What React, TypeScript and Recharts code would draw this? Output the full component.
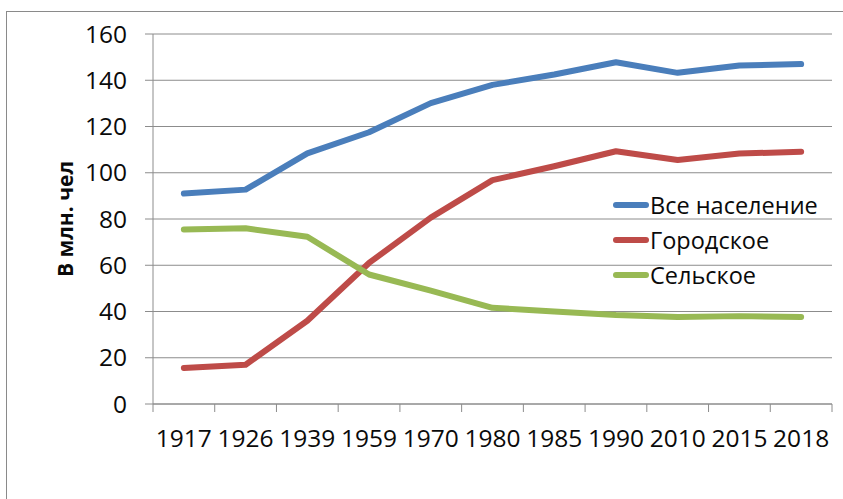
import React from "react";
import { LineChart, Line, XAxis, YAxis, CartesianGrid } from "recharts";

const years = ["1917", "1926", "1939", "1959", "1970", "1980", "1985", "1990", "2010", "2015", "2018"];
const total = [91, 92.7, 108.4, 117.5, 130.1, 138, 142.5, 147.8, 143.2, 146.4, 147];
const urban = [15.6, 17, 36, 61, 80.6, 96.8, 102.8, 109.3, 105.5, 108.3, 109.1];
const rural = [75.5, 76, 72.3, 56, 49, 41.6, 40, 38.5, 37.6, 38, 37.6];
const yTicks = [0, 20, 40, 60, 80, 100, 120, 140, 160];

const seriesList = [
  { key: "total", name: "Все население", color: "#4A7EBB" },
  { key: "urban", name: "Городское", color: "#BE4B48" },
  { key: "rural", name: "Сельское", color: "#98B954" },
];

const data = years.map((year, i) => ({
  year,
  idx: i,
  total: total[i],
  urban: urban[i],
  rural: rural[i],
}));

const boundaries = years.map((_, i) => i).concat([years.length]);

const FONT = "'Open Sans', 'DejaVu Sans', sans-serif";
const GRID = "#8c8c8c";
const TEXT = "#0a0a0a";

function LegendBox() {
  return (
    <div style={{ fontFamily: FONT, fontSize: 23.5, color: TEXT }}>
      {seriesList.map((s) => (
        <div key={s.key} style={{ display: "flex", alignItems: "center", height: 35 }}>
          <div
            style={{
              width: 36,
              height: 6,
              borderRadius: 3,
              background: s.color,
              marginRight: 1,
            }}
          />
          <span>{s.name}</span>
        </div>
      ))}
    </div>
  );
}

export default function App() {
  return (
    <div
      style={{
        position: "absolute",
        left: 0,
        top: 0,
        width: 843,
        height: 499,
        overflow: "hidden",
        background: "#fff",
      }}
    >
      <div
        style={{
          position: "absolute",
          left: 6,
          top: 11,
          width: 900,
          height: 600,
          border: "1.5px solid #8a8a8a",
        }}
      />
      <div style={{ position: "absolute", left: 0, top: 0 }}>
        <LineChart
          width={843}
          height={499}
          data={data}
          margin={{ top: 34, right: 11, left: 0, bottom: 0 }}
        >
          <CartesianGrid horizontal vertical={false} stroke={GRID} strokeWidth={1} />
          <XAxis
            xAxisId="cat"
            dataKey="year"
            scale="band"
            interval={0}
            height={87}
            axisLine={false}
            tickLine={false}
            tickSize={0}
            tickMargin={18}
            tick={{ fill: TEXT, fontSize: 24.5, fontFamily: FONT }}
          />
          <XAxis
            xAxisId="axEdges"
            dataKey="idx"
            type="number"
            domain={[0, years.length]}
            ticks={boundaries}
            interval={0}
            height={8}
            tickSize={8}
            tickFormatter={() => ""}
            axisLine={{ stroke: GRID }}
            tickLine={{ stroke: GRID }}
          />
          <YAxis
            domain={[0, 160]}
            ticks={yTicks}
            interval={0}
            width={153}
            tickSize={8}
            tickMargin={18}
            axisLine={{ stroke: GRID }}
            tickLine={{ stroke: GRID }}
            tick={{ fill: TEXT, fontSize: 24.5, fontFamily: FONT }}
            label={{
              value: "В млн. чел",
              angle: -90,
              position: "center",
              dx: -11,
              style: { fontFamily: FONT, fontSize: 21, fontWeight: 700, fill: TEXT },
            }}
          />
          {seriesList.map((s) => (
            <Line
              key={s.key}
              xAxisId="cat"
              dataKey={s.key}
              name={s.name}
              stroke={s.color}
              strokeWidth={6}
              strokeLinecap="round"
              strokeLinejoin="round"
              dot={false}
              activeDot={false}
              isAnimationActive={false}
            />
          ))}
        </LineChart>
      </div>
      <div style={{ position: "absolute", left: 613, top: 187 }}>
        <LegendBox />
      </div>
    </div>
  );
}
